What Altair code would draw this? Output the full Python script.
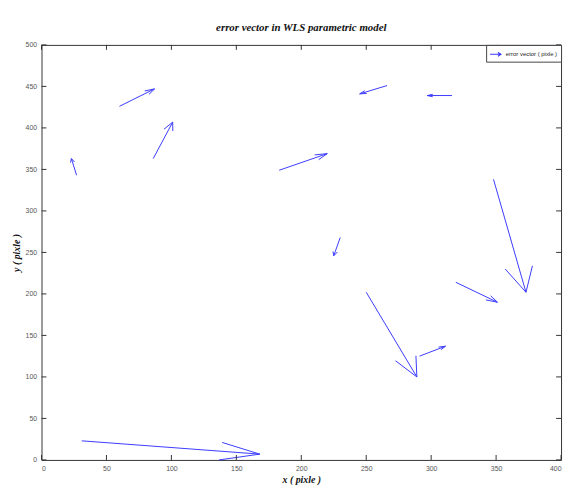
import altair as alt
import pandas as pd

# Vector tails (pixels) and components
tail_x = [27, 60, 86, 183, 266, 316, 230, 348, 319, 250, 291, 31]
tail_y = [343, 426, 363, 349, 451, 439, 268, 338, 214, 202, 125, 23]
vec_u = [-4, 27, 15, 37, -21, -19, -5, 25, 32, 39, 20, 137]
vec_v = [20, 21, 44, 20, -10, 0, -22, -136, -24, -102, 12, -16]

x_ticks = [0, 50, 100, 150, 200, 250, 300, 350, 400]
y_ticks = [0, 50, 100, 150, 200, 250, 300, 350, 400, 450, 500]

series_name = "error vector ( pixle )"
title_text = "error vector in WLS parametric model"

ALPHA = 0.22
BETA = 0.35

W, H = 527, 421
TICK = 5

rows = []
for x, y, u, v in zip(tail_x, tail_y, vec_u, vec_v):
    hx, hy = x + u, y + v
    rows.append(dict(x=x, y=y, x2=hx, y2=hy, s=series_name))
    rows.append(dict(x=hx - ALPHA * (u + BETA * v), y=hy - ALPHA * (v - BETA * u), x2=hx, y2=hy, s=series_name))
    rows.append(dict(x=hx - ALPHA * (u - BETA * v), y=hy - ALPHA * (v + BETA * u), x2=hx, y2=hy, s=series_name))
df = pd.DataFrame(rows)
xt = pd.DataFrame({"t": x_ticks})
yt = pd.DataFrame({"t": y_ticks})

xscale = alt.Scale(domain=[0, 400], nice=False, zero=False)
yscale = alt.Scale(domain=[0, 500], nice=False, zero=False)

lab_font = "Liberation Sans"
title_font = "Liberation Serif"

arrows = alt.Chart(df).mark_rule(strokeWidth=1).encode(
    x=alt.X("x:Q", scale=xscale, axis=alt.Axis(
        values=x_ticks, orient="bottom", title="x ( pixle )", domain=False, grid=False,
        ticks=False, labelPadding=5,
        labelFontSize=7, labelColor="#555", labelFont=lab_font,
        titleFont=title_font, titleFontStyle="italic", titleFontWeight="bold",
        titleFontSize=10, titlePadding=3, titleColor="#111")),
    x2="x2:Q",
    y=alt.Y("y:Q", scale=yscale, axis=alt.Axis(
        values=y_ticks, orient="left", title="y ( pixle )", domain=False, grid=False,
        ticks=False, labelPadding=5,
        labelFontSize=7, labelColor="#555", labelFont=lab_font,
        titleFont=title_font, titleFontStyle="italic", titleFontWeight="bold",
        titleFontSize=10, titlePadding=4, titleColor="#111")),
    y2="y2:Q",
    color=alt.Color("s:N", scale=alt.Scale(domain=[series_name], range=["#3a3aff"]),
                    legend=alt.Legend(
                        title=None, orient="top-right", offset=0,
                        strokeColor="#444", fillColor="white", padding=3,
                        labelFontSize=6, labelFont=lab_font, labelColor="#222",
                        symbolType="M-1,0L1,0M0.45,-0.35L1,0L0.45,0.35",
                        symbolSize=120, symbolStrokeWidth=1.2)),
)

tick_style = dict(color="#333", strokeWidth=1)
bottom_ticks = alt.Chart(xt).mark_rule(**tick_style).encode(
    x=alt.X("t:Q", scale=xscale), y=alt.value(H), y2=alt.value(H - TICK))
top_ticks = alt.Chart(xt).mark_rule(**tick_style).encode(
    x=alt.X("t:Q", scale=xscale), y=alt.value(0), y2=alt.value(TICK))
left_ticks = alt.Chart(yt).mark_rule(**tick_style).encode(
    y=alt.Y("t:Q", scale=yscale), x=alt.value(0), x2=alt.value(TICK))
right_ticks = alt.Chart(yt).mark_rule(**tick_style).encode(
    y=alt.Y("t:Q", scale=yscale), x=alt.value(W), x2=alt.value(W - TICK))

chart = alt.layer(arrows, bottom_ticks, top_ticks, left_ticks, right_ticks).properties(
    width=W, height=H,
    title=alt.TitleParams(title_text, font=title_font, fontStyle="italic",
                          fontWeight="bold", fontSize=11, color="#111", offset=8),
    autosize=alt.AutoSizeParams(type="none"),
    padding={"left": 34, "top": 34, "right": 3, "bottom": 22},
).configure_view(stroke="#333", strokeWidth=1)

chart.save("out.html", embed_options={"renderer": "svg", "actions": False})
